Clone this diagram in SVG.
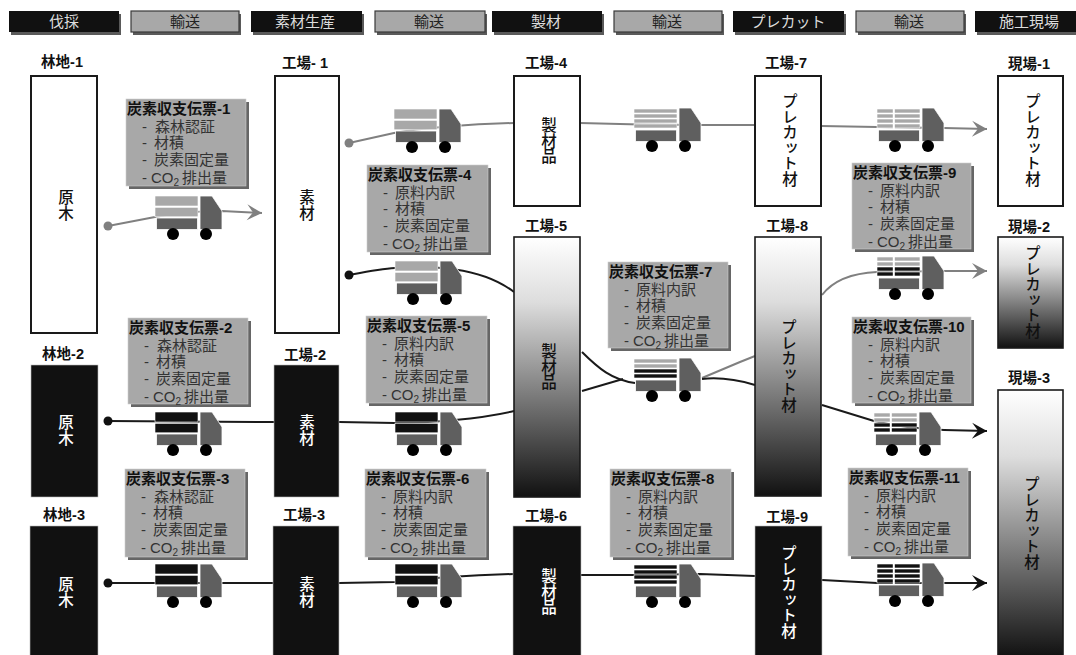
<svg xmlns="http://www.w3.org/2000/svg" width="1076" height="655" viewBox="0 0 1076 655">
<style>
text{font-family:"Liberation Sans","Noto Sans CJK JP",sans-serif}
.hs{fill:#5a5a5a}
.hd{fill:#111}
.hg{fill:#a8a8a8;stroke:#3a3a3a;stroke-width:1.2}
.ht{font-size:15px;text-anchor:middle;fill:#ddd}
.htg{font-size:15px;text-anchor:middle;fill:#222}
.lb{font-size:14.5px;font-weight:700;text-anchor:middle;fill:#111}
.nw{fill:#fff;stroke:#1a1a1a;stroke-width:2}
.nd{fill:#111;stroke:#bbb;stroke-width:.6}
.ng{fill:url(#fade);stroke:#1a1a1a;stroke-width:1.6}
.v,.vw{font-family:"Noto Sans CJK JP",sans-serif;font-size:15.5px;font-weight:500;writing-mode:vertical-rl;text-orientation:upright;text-anchor:middle}
.v{fill:#111}
.vw{fill:#fff}
.ss{fill:#666}
.sb{fill:#a8a8a8;stroke:#ccc;stroke-width:.6}
.st{font-size:15px;font-weight:700;fill:#111}
.sl{font-size:15px;fill:#333}
.sub{font-size:10px}
.cg{fill:none;stroke:#808080;stroke-width:2}
.ck{fill:none;stroke:#1a1a1a;stroke-width:2}
.ag{marker-end:url(#ahg)}
.ak{marker-end:url(#ahk)}
.dg{fill:#808080}
.dk{fill:#111}
.bL{fill:#a8a8a8;stroke:#fff;stroke-width:.6}
.bD{fill:#111;stroke:#fff;stroke-width:.6}
.tm{fill:#5f5f5f;stroke:#fff;stroke-width:.8}
.tw{fill:#000}
</style>
<defs>
<linearGradient id="fade" x1="0" y1="0" x2="0" y2="1"><stop offset="0" stop-color="#fff"/><stop offset=".25" stop-color="#ddd"/><stop offset="1" stop-color="#111"/></linearGradient>
<marker id="ahg" markerUnits="userSpaceOnUse" markerWidth="18" markerHeight="18" refX="16" refY="8" orient="auto" overflow="visible"><path d="M1,0 L16,8 L1,16 L7,8 Z" fill="#808080"/></marker>
<marker id="ahk" markerUnits="userSpaceOnUse" markerWidth="18" markerHeight="18" refX="16" refY="8" orient="auto" overflow="visible"><path d="M1,0 L16,8 L1,16 L7,8 Z" fill="#111"/></marker>
<g id="truck"><rect class="tm" x="1.5" y="22" width="41" height="11.5"/><path class="tm" d="M45,0 H57 L67,15 V33.5 H45 Z"/><circle class="tw" cx="18" cy="38" r="6"/><circle class="tw" cx="51" cy="38" r="6"/></g>
<g id="loadLL"><rect class="bL" width="43" height="10"/><rect class="bL" y="11.3" width="43" height="9.5"/></g>
<g id="loadDD"><rect class="bD" width="43" height="10"/><rect class="bD" y="11.3" width="43" height="9.5"/></g>
<g id="load4L"><rect class="bL" y="1" width="43" height="4"/><rect class="bL" y="6" width="43" height="4"/><rect class="bL" y="11" width="43" height="4"/><rect class="bL" y="16" width="43" height="4"/></g>
<g id="load4M"><rect class="bL" y="1" width="43" height="4"/><rect class="bL" y="6" width="43" height="4"/><rect class="bD" y="11" width="43" height="4"/><rect class="bD" y="16" width="43" height="4"/></g>
<g id="load4D"><rect class="bD" y="1" width="43" height="4"/><rect class="bD" y="6" width="43" height="4"/><rect class="bD" y="11" width="43" height="4"/><rect class="bD" y="16" width="43" height="4"/></g>
<path id="split" d="M16.8,-1 V22" stroke="#fff" stroke-width="2" fill="none"/>
</defs>
<rect width="1076" height="655" fill="#fff"/>

<g id="headers">
<g id="h1"><rect class="hs" x="11" y="14" width="110" height="21"/><rect class="hd" x="9" y="11" width="110" height="21"/><text class="ht" x="64" y="27">伐採</text></g>
<g id="h2"><rect class="hs" x="133" y="14" width="108" height="21"/><rect class="hg" x="131" y="11" width="108" height="21"/><text class="htg" x="185" y="27">輸送</text></g>
<g id="h3"><rect class="hs" x="253" y="14" width="111" height="21"/><rect class="hd" x="251" y="11" width="111" height="21"/><text class="ht" x="305" y="27">素材生産</text></g>
<g id="h4"><rect class="hs" x="377" y="14" width="110" height="21"/><rect class="hg" x="375" y="11" width="110" height="21"/><text class="htg" x="429" y="27">輸送</text></g>
<g id="h5"><rect class="hs" x="494" y="14" width="110" height="21"/><rect class="hd" x="492" y="11" width="110" height="21"/><text class="ht" x="546" y="27">製材</text></g>
<g id="h6"><rect class="hs" x="616" y="14" width="108" height="21"/><rect class="hg" x="614" y="11" width="108" height="21"/><text class="htg" x="667" y="27">輸送</text></g>
<g id="h7"><rect class="hs" x="735" y="14" width="111" height="21"/><rect class="hd" x="733" y="11" width="111" height="21"/><text class="ht" x="788" y="27">プレカット</text></g>
<g id="h8"><rect class="hs" x="858" y="14" width="108" height="21"/><rect class="hg" x="856" y="11" width="108" height="21"/><text class="htg" x="909" y="27">輸送</text></g>
<g id="h9"><rect class="hs" x="977" y="14" width="101" height="21"/><rect class="hd" x="975" y="11" width="101" height="21"/><text class="ht" x="1029" y="27">施工現場</text></g>
</g>

<g id="connectors">
<path class="cg ag" d="M108,226 L155,217 M155,217 C175,213 200,211 222,211 L262,213"/>
<path class="cg" d="M349,143 L394,133 C420,128 470,124 514,123"/>
<path class="cg" d="M580,123 C610,124 650,125 700,125 L755,125"/>
<path class="cg ag" d="M821,126 L877,127 L944,128 L987,129"/>
<path class="ck" d="M349,275 C365,272 380,269 395,268 C430,266 480,266 514,292"/>
<path class="cg ag" d="M822,295 C835,278 855,273 877,272 L944,271 L987,271"/>
<path class="ck" d="M582,352 C598,368 612,380 635,383"/>
<path class="ck" d="M582,391 L623,379"/>
<path class="cg" d="M702,378 L740,362 L755,356"/>
<path class="ck" d="M702,379 C720,377 735,379 755,385"/>
<path class="ck ak" d="M822,405 L874,421 C895,426 920,429 944,430 L987,431"/>
<path class="ck" d="M108,421 L274,422"/>
<path class="ck" d="M339,422 L395,423 C430,423 480,419 514,411"/>
<path class="ck" d="M108,583 L273,583"/>
<path class="ck" d="M339,583 L395,582 C430,578 480,575 514,574"/>
<path class="ck" d="M581,575 L634,575 L700,574 L755,576"/>
<path class="ck ak" d="M822,580 L877,583 L944,583 L987,583"/>
<circle class="dg" cx="108" cy="226" r="4.5"/>
<circle class="dg" cx="349" cy="143" r="4.5"/>
<circle class="dk" cx="349" cy="275" r="4.5"/>
<circle class="dk" cx="108" cy="421" r="4.5"/>
<circle class="dk" cx="108" cy="583" r="4.5"/>
</g>

<g id="trucks">
<g id="truck-1" transform="translate(155,196)"><use href="#truck"/><use href="#loadLL"/></g>
<g id="truck-2" transform="translate(155,412)"><use href="#truck"/><use href="#loadDD"/></g>
<g id="truck-3" transform="translate(155,564)"><use href="#truck"/><use href="#loadDD"/></g>
<g id="truck-4" transform="translate(394,109)"><use href="#truck"/><use href="#loadLL"/></g>
<g id="truck-5" transform="translate(395,261)"><use href="#truck"/><use href="#loadLL"/></g>
<g id="truck-6" transform="translate(395,412)"><use href="#truck"/><use href="#loadDD"/></g>
<g id="truck-7" transform="translate(395,564)"><use href="#truck"/><use href="#loadDD"/></g>
<g id="truck-8" transform="translate(634,108)"><use href="#truck"/><use href="#load4L"/></g>
<g id="truck-9" transform="translate(634,358)"><use href="#truck"/><use href="#load4M"/></g>
<g id="truck-10" transform="translate(634,564)"><use href="#truck"/><use href="#load4D"/></g>
<g id="truck-11" transform="translate(877,108)"><use href="#truck"/><use href="#load4L"/><use href="#split"/></g>
<g id="truck-12" transform="translate(877,256)"><use href="#truck"/><use href="#load4M"/><use href="#split"/></g>
<g id="truck-13" transform="translate(874,412)"><use href="#truck"/><use href="#load4M"/><use href="#split"/></g>
<g id="truck-14" transform="translate(877,563)"><use href="#truck"/><use href="#load4D"/><use href="#split"/></g>
</g>

<g id="slip-1" transform="translate(126,99)"><rect class="ss" x="3" y="3" width="120" height="87"/><rect class="sb" width="120" height="87"/><text class="st" x="1" y="15">炭素収支伝票-1</text><text class="sl" x="16" y="33">- <tspan x="29">森林認証</tspan></text><text class="sl" x="16" y="49">- <tspan x="28">材積</tspan></text><text class="sl" x="16" y="66">- <tspan x="28">炭素固定量</tspan></text><text class="sl" x="16" y="84">- <tspan x="25">CO</tspan><tspan class="sub" dy="3">2</tspan><tspan x="56" dy="-3">排出量</tspan></text></g>
<g id="slip-2" transform="translate(128,318)"><rect class="ss" x="3" y="3" width="120" height="86"/><rect class="sb" width="120" height="86"/><text class="st" x="1" y="15">炭素収支伝票-2</text><text class="sl" x="16" y="33">- <tspan x="29">森林認証</tspan></text><text class="sl" x="16" y="49">- <tspan x="28">材積</tspan></text><text class="sl" x="16" y="66">- <tspan x="28">炭素固定量</tspan></text><text class="sl" x="16" y="84">- <tspan x="25">CO</tspan><tspan class="sub" dy="3">2</tspan><tspan x="56" dy="-3">排出量</tspan></text></g>
<g id="slip-3" transform="translate(125,469)"><rect class="ss" x="3" y="3" width="120" height="88"/><rect class="sb" width="120" height="88"/><text class="st" x="1" y="15">炭素収支伝票-3</text><text class="sl" x="16" y="33">- <tspan x="29">森林認証</tspan></text><text class="sl" x="16" y="49">- <tspan x="28">材積</tspan></text><text class="sl" x="16" y="66">- <tspan x="28">炭素固定量</tspan></text><text class="sl" x="16" y="84">- <tspan x="25">CO</tspan><tspan class="sub" dy="3">2</tspan><tspan x="56" dy="-3">排出量</tspan></text></g>
<g id="slip-4" transform="translate(367,165)"><rect class="ss" x="3" y="3" width="121" height="87"/><rect class="sb" width="121" height="87"/><text class="st" x="1" y="15">炭素収支伝票-4</text><text class="sl" x="16" y="33">- <tspan x="28">原料内訳</tspan></text><text class="sl" x="16" y="49">- <tspan x="28">材積</tspan></text><text class="sl" x="16" y="66">- <tspan x="28">炭素固定量</tspan></text><text class="sl" x="16" y="84">- <tspan x="25">CO</tspan><tspan class="sub" dy="3">2</tspan><tspan x="56" dy="-3">排出量</tspan></text></g>
<g id="slip-5" transform="translate(366,316)"><rect class="ss" x="3" y="3" width="121" height="87"/><rect class="sb" width="121" height="87"/><text class="st" x="1" y="15">炭素収支伝票-5</text><text class="sl" x="16" y="33">- <tspan x="28">原料内訳</tspan></text><text class="sl" x="16" y="49">- <tspan x="28">材積</tspan></text><text class="sl" x="16" y="66">- <tspan x="28">炭素固定量</tspan></text><text class="sl" x="16" y="84">- <tspan x="25">CO</tspan><tspan class="sub" dy="3">2</tspan><tspan x="56" dy="-3">排出量</tspan></text></g>
<g id="slip-6" transform="translate(365,469)"><rect class="ss" x="3" y="3" width="121" height="88"/><rect class="sb" width="121" height="88"/><text class="st" x="1" y="15">炭素収支伝票-6</text><text class="sl" x="16" y="33">- <tspan x="28">原料内訳</tspan></text><text class="sl" x="16" y="49">- <tspan x="28">材積</tspan></text><text class="sl" x="16" y="66">- <tspan x="28">炭素固定量</tspan></text><text class="sl" x="16" y="84">- <tspan x="25">CO</tspan><tspan class="sub" dy="3">2</tspan><tspan x="56" dy="-3">排出量</tspan></text></g>
<g id="slip-7" transform="translate(608,262)"><rect class="ss" x="3" y="3" width="120" height="86"/><rect class="sb" width="120" height="86"/><text class="st" x="1" y="15">炭素収支伝票-7</text><text class="sl" x="16" y="33">- <tspan x="28">原料内訳</tspan></text><text class="sl" x="16" y="49">- <tspan x="28">材積</tspan></text><text class="sl" x="16" y="66">- <tspan x="28">炭素固定量</tspan></text><text class="sl" x="16" y="84">- <tspan x="25">CO</tspan><tspan class="sub" dy="3">2</tspan><tspan x="56" dy="-3">排出量</tspan></text></g>
<g id="slip-8" transform="translate(610,469)"><rect class="ss" x="3" y="3" width="121" height="88"/><rect class="sb" width="121" height="88"/><text class="st" x="1" y="15">炭素収支伝票-8</text><text class="sl" x="16" y="33">- <tspan x="28">原料内訳</tspan></text><text class="sl" x="16" y="49">- <tspan x="28">材積</tspan></text><text class="sl" x="16" y="66">- <tspan x="28">炭素固定量</tspan></text><text class="sl" x="16" y="84">- <tspan x="25">CO</tspan><tspan class="sub" dy="3">2</tspan><tspan x="56" dy="-3">排出量</tspan></text></g>
<g id="slip-9" transform="translate(852,163)"><rect class="ss" x="3" y="3" width="119" height="86"/><rect class="sb" width="119" height="86"/><text class="st" x="1" y="15">炭素収支伝票-9</text><text class="sl" x="16" y="33">- <tspan x="28">原料内訳</tspan></text><text class="sl" x="16" y="49">- <tspan x="28">材積</tspan></text><text class="sl" x="16" y="66">- <tspan x="28">炭素固定量</tspan></text><text class="sl" x="16" y="84">- <tspan x="25">CO</tspan><tspan class="sub" dy="3">2</tspan><tspan x="56" dy="-3">排出量</tspan></text></g>
<g id="slip-10" transform="translate(852,317)"><rect class="ss" x="3" y="3" width="119" height="86"/><rect class="sb" width="119" height="86"/><text class="st" x="1" y="15">炭素収支伝票-10</text><text class="sl" x="16" y="33">- <tspan x="28">原料内訳</tspan></text><text class="sl" x="16" y="49">- <tspan x="28">材積</tspan></text><text class="sl" x="16" y="66">- <tspan x="28">炭素固定量</tspan></text><text class="sl" x="16" y="84">- <tspan x="25">CO</tspan><tspan class="sub" dy="3">2</tspan><tspan x="56" dy="-3">排出量</tspan></text></g>
<g id="slip-11" transform="translate(848,468)"><rect class="ss" x="3" y="3" width="120" height="88"/><rect class="sb" width="120" height="88"/><text class="st" x="1" y="15">炭素収支伝票-11</text><text class="sl" x="16" y="33">- <tspan x="28">原料内訳</tspan></text><text class="sl" x="16" y="49">- <tspan x="28">材積</tspan></text><text class="sl" x="16" y="66">- <tspan x="28">炭素固定量</tspan></text><text class="sl" x="16" y="84">- <tspan x="25">CO</tspan><tspan class="sub" dy="3">2</tspan><tspan x="56" dy="-3">排出量</tspan></text></g>

<g id="forest-1"><text class="lb" x="62" y="67">林地-1</text><rect class="nw" x="31" y="76" width="66" height="257"/><text class="v" x="66" y="205">原木</text></g>
<g id="forest-2"><text class="lb" x="63" y="359">林地-2</text><rect class="nd" x="31" y="365" width="67" height="132"/><text class="vw" x="66" y="430">原木</text></g>
<g id="forest-3"><text class="lb" x="64" y="520">林地-3</text><rect class="nd" x="30" y="526" width="68" height="131"/><text class="vw" x="66" y="592">原木</text></g>
<g id="factory-1"><text class="lb" x="305" y="68">工場- 1</text><rect class="nw" x="275" y="76" width="64" height="257"/><text class="v" x="307" y="205">素材</text></g>
<g id="factory-2"><text class="lb" x="305" y="360">工場-2</text><rect class="nd" x="274" y="365" width="65" height="132"/><text class="vw" x="307" y="430">素材</text></g>
<g id="factory-3"><text class="lb" x="304" y="520">工場-3</text><rect class="nd" x="273" y="526" width="66" height="131"/><text class="vw" x="307" y="592">素材</text></g>
<g id="factory-4"><text class="lb" x="546" y="68">工場-4</text><rect class="nw" x="514" y="76" width="66" height="130"/><text class="v" x="549" y="141">製材品</text></g>
<g id="factory-5"><text class="lb" x="546" y="231">工場-5</text><rect class="ng" x="514" y="237" width="66" height="260"/><text class="v" x="549" y="367">製材品</text></g>
<g id="factory-6"><text class="lb" x="546" y="521">工場-6</text><rect class="nd" x="513" y="526" width="68" height="131"/><text class="vw" x="549" y="592">製材品</text></g>
<g id="factory-7"><text class="lb" x="786" y="68">工場-7</text><rect class="nw" x="755" y="76" width="66" height="130"/><text class="v" x="790" y="140">プレカット材</text></g>
<g id="factory-8"><text class="lb" x="787" y="231">工場-8</text><rect class="ng" x="755" y="237" width="66" height="259"/><text class="v" x="789" y="366">プレカット材</text></g>
<g id="factory-9"><text class="lb" x="787" y="522">工場-9</text><rect class="nd" x="755" y="526" width="67" height="131"/><text class="vw" x="789" y="592">プレカット材</text></g>
<g id="site-1"><text class="lb" x="1029" y="69">現場-1</text><rect class="nw" x="998" y="76" width="65" height="130"/><text class="v" x="1033" y="140">プレカット材</text></g>
<g id="site-2"><text class="lb" x="1029" y="232">現場-2</text><rect class="ng" x="998" y="237" width="65" height="111"/><text class="v" x="1033" y="292">プレカット材</text></g>
<g id="site-3"><text class="lb" x="1029" y="383">現場-3</text><rect class="ng" x="998" y="390" width="65" height="267"/><text class="v" x="1032" y="523">プレカット材</text></g>
</svg>
